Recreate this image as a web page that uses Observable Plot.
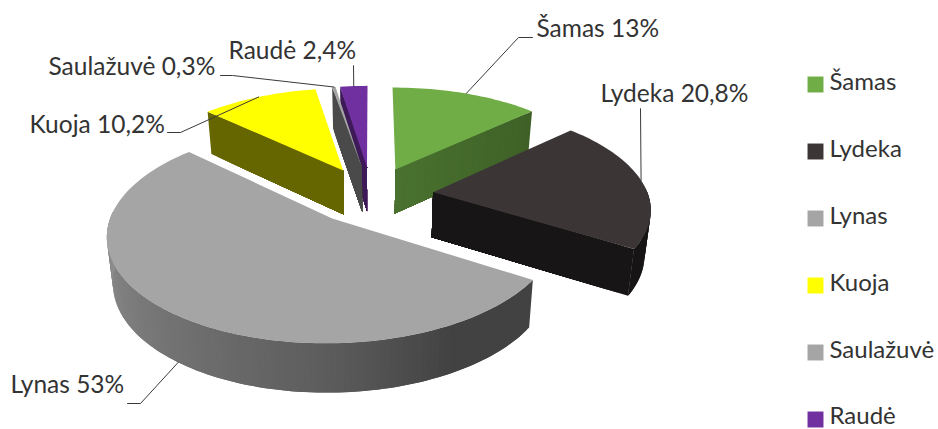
<!DOCTYPE html>
<html><head><meta charset="utf-8">
<style>html,body{margin:0;padding:0;background:#fff}svg{display:block}</style>
<script src="https://cdn.jsdelivr.net/npm/d3@7"></script>
<script src="https://cdn.jsdelivr.net/npm/@observablehq/plot@0.6"></script>
</head><body><div id="chart"></div>
<script>
const names = ["Šamas","Lydeka","Lynas","Kuoja","Saulažuvė","Raudė"];
const shares = [13,20.8,53,10.2,0.3,2.4];
const colors = ["#70ad47","#3b3536","#a5a5a5","#ffff00","#a5a5a5","#7030a0"];
const faceNear = [0.66,0.4,0.4,0.4,0.45,0.55];
const faceFar = [0.56,0.4,0.4,0.4,0.45,0.55];
const paintOrder = [0,3,5,4,1,2];
const labelAnchors = [[536,29],[600,94],[10,385],[29,125],[48,67],[228,51]];
const labelElbows = [[518,37],[640,108],[140,403],[180,132],[232,75],[353,65]];
const labelStarts = [[532,37],[640,108],[127,403],[167,132],[220,75],[353,65]];
const leaderFractions = [0.5,0.48,0.5,0.5,0.5,0.5];

// projection of the pie plane
const cx=371, cy=194.5, a=215, b=100, p=0.14, e=0.289, h=45, pd=0.07, conv=0.023;
const total=d3.sum(shares), rad=Math.PI/180;
let acc=0;
const slices=names.map((name,i)=>{
  const t0=acc/total*360; acc+=shares[i]; const t1=acc/total*360;
  const m=(t0+t1)/2;
  return {i,name,value:shares[i],t0,t1,m,ox:e*Math.sin(m*rad),oy:e*Math.cos(m*rad)};
});
function proj(s,r,t,z){
  const X=s.ox+r*Math.sin(t*rad),Y=s.oy+r*Math.cos(t*rad),w=1+p*Y;
  return {x:cx+(a*X/w)*(1-conv*z), y:cy-b*Y/w+z*h/(1+pd*Y)};
}
const wallShade=d3.scaleLinear().domain([150,180,270]).range([0.4,0.56,0.87]).clamp(true);
const dim=(c,k)=>{const q=d3.rgb(c);return d3.rgb(q.r*k,q.g*k,q.b*k).formatHex();};
const polys=[]; let pid=0;
function poly(pts,color){const id=pid++;[...pts,pts[0]].forEach(q=>polys.push({x:q.x,y:q.y,id,color}));}
for(const k of paintOrder){
  const s=slices[k],col=colors[k];
  const apex0=proj(s,0,0,0);
  const face=t=>{
    // radial side, painted from the tip in toward the apex so no seam shows
    d3.range(20).forEach(j=>{
      const r=1-j/20;
      poly([apex0,proj(s,r,t,0),proj(s,r,t,1),proj(s,0,0,1)],
        dim(col,faceFar[k]+(faceNear[k]-faceFar[k])*(1-r)));
    });
  };
  if(Math.sin(s.t0*rad)<0) face(s.t0);
  if(Math.sin(s.t1*rad)>0) face(s.t1);
  const steps=d3.range(s.t0,s.t1,1.5).concat([s.t1]);
  const visible=d3.pairs(steps).filter(([u,v])=>Math.cos((u+v)/2*rad)<0.05);
  visible.forEach(([u,v],j)=>{
    // each strip runs on under the next one, so that no seam shows
    const far=j<visible.length-1?visible[j+1][1]:v;
    poly([proj(s,1,u,0),proj(s,1,v,0),proj(s,1,far,0),proj(s,1,far,1),proj(s,1,v,1),proj(s,1,u,1)],dim(col,wallShade((u+v)/2)));
  });
  poly([apex0,...steps.map(t=>proj(s,1,t,0))],col);
}
const fmt=v=>String(v).replace(".",",")+"%";
const labels=slices.map((s,i)=>({text:`${s.name} ${fmt(s.value)}`,x:labelAnchors[i][0],y:labelAnchors[i][1]}));
const leaders=slices.flatMap((s,i)=>{
  const t=s.t0+(s.t1-s.t0)*leaderFractions[i];
  const end=proj(s,1,t,Math.cos(t*rad)<0?1:0);
  return [labelStarts[i],labelElbows[i],[end.x,end.y]].map(q=>({x:q[0],y:q[1],id:i}));
});
const legendTop=84, legendStep=67;
const legend=names.map((n,i)=>{
  const y=legendTop+i*legendStep;
  return {n,c:colors[i],y,ty:Math.min(y-2,416)};
});
const chart=Plot.plot({
  width:938,height:429,margin:0,
  x:{domain:[0,938],range:[0,938],axis:null},
  y:{domain:[0,429],range:[0,429],axis:null},
  color:{type:"identity"},
  style:{fontFamily:"Lato, 'Open Sans', sans-serif",background:"#fff"},
  marks:[
    Plot.line(polys,{x:"x",y:"y",z:"id",fill:"color",strokeWidth:0,curve:"linear"}),
    Plot.line(leaders,{x:"x",y:"y",z:"id",stroke:"#3a3a3a",strokeWidth:1,curve:"linear"}),
    Plot.text(labels,{x:"x",y:"y",text:"text",textAnchor:"start",fontSize:24.5,fill:"#333333"}),
    Plot.dot(legend,{x:815,y:"y",symbol:"square",r:9,fill:"c",stroke:"none"}),
    Plot.text(legend,{x:829,y:"ty",text:"n",textAnchor:"start",fontSize:24,fill:"#333333"})
  ]
});
document.getElementById("chart").append(chart);
</script></body></html>
